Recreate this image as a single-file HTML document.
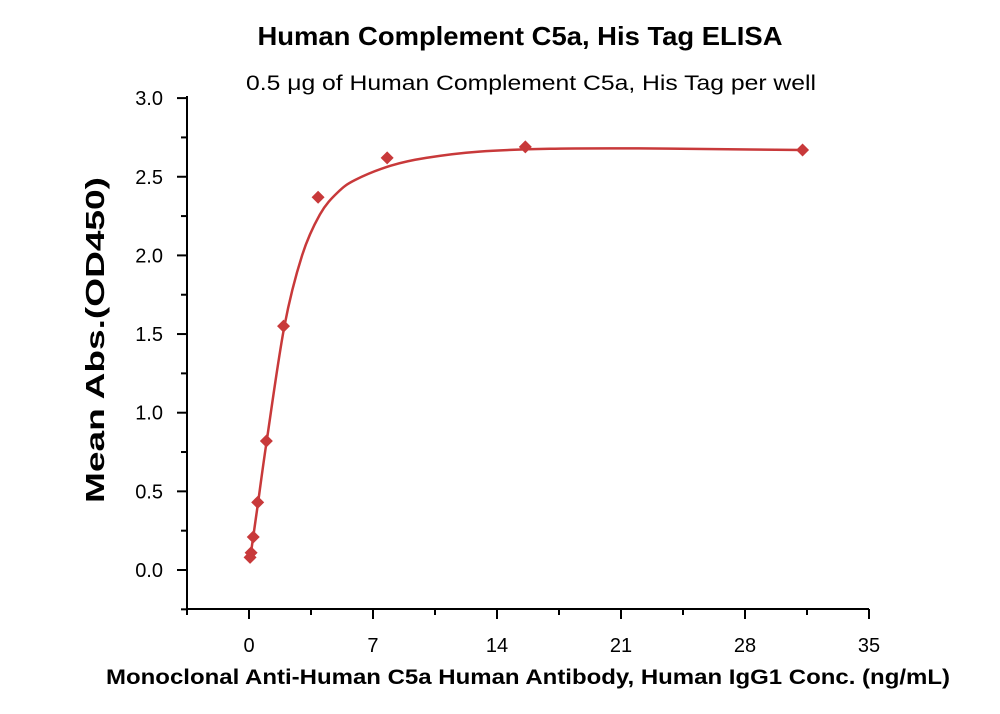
<!DOCTYPE html>
<html><head><meta charset="utf-8"><style>body{margin:0;background:#fff}svg{display:block}text{font-family:"Liberation Sans",sans-serif}</style></head>
<body>
<svg id="s" width="1000" height="714" xmlns="http://www.w3.org/2000/svg">
<text x="520" y="45" font-size="26" font-weight="bold" text-anchor="middle" textLength="525" lengthAdjust="spacingAndGlyphs">Human Complement C5a, His Tag ELISA</text>
<text x="531" y="90" font-size="21" text-anchor="middle" textLength="570" lengthAdjust="spacingAndGlyphs">0.5 μg of Human Complement C5a, His Tag per well</text>
<text x="528" y="684" font-size="21" font-weight="bold" text-anchor="middle" textLength="844" lengthAdjust="spacingAndGlyphs">Monoclonal Anti-Human C5a Human Antibody, Human IgG1 Conc. (ng/mL)</text>
<text transform="translate(104,340) rotate(-90)" font-size="26" font-weight="bold" text-anchor="middle" textLength="326" lengthAdjust="spacingAndGlyphs">Mean Abs.(OD450)</text>
<g id="ax" stroke="#000" stroke-width="2" fill="none"></g>
<g id="lbl" font-size="20"></g>
<path id="curve" fill="none" stroke="#c8393a" stroke-width="2.5"/>
<g id="pts" fill="#c8393a"></g>
</svg>
<script>
var X=function(v){return 249+v*17.714},Y=function(v){return 570-v*157.3};
var ax=document.getElementById('ax'),lb=document.getElementById('lbl'),ns='http://www.w3.org/2000/svg';
function L(x1,y1,x2,y2){var e=document.createElementNS(ns,'line');e.setAttribute('x1',x1);e.setAttribute('y1',y1);e.setAttribute('x2',x2);e.setAttribute('y2',y2);ax.appendChild(e);}
function T(x,y,t,a){var e=document.createElementNS(ns,'text');e.setAttribute('x',x);e.setAttribute('y',y);e.setAttribute('text-anchor',a);e.textContent=t;lb.appendChild(e);}
L(187,96,187,609);L(186,609,869,609);
for(var i=-1;i<=12;i++){var y=Y(i*0.25);if(y<96)continue;var maj=i%2==0&&i>=0;L(maj?177:181,y,187,y);if(maj)T(163,y+7,(i*0.25).toFixed(1),'end');}
for(var i=-1;i<=10;i++){var x=X(i*3.5);var maj=i%2==0;L(x,609,x,maj?619:615);if(maj)T(x,652,String(i*3.5),'middle');}
var cp=[[0.06,0.07],[0.5,0.42],[1,0.82],[2,1.55],[3,2.0],[4,2.26],[5,2.4],[6,2.48],[8,2.57],[10,2.62],[13,2.66],[17,2.678],[22,2.68],[27,2.675],[31.25,2.67]].map(function(q){return [X(q[0]),Y(q[1])];});
var d='M'+cp[0][0]+' '+cp[0][1];
for(var i=0;i<cp.length-1;i++){var p0=cp[Math.max(i-1,0)],p1=cp[i],p2=cp[i+1],p3=cp[Math.min(i+2,cp.length-1)];
d+='C'+(p1[0]+(p2[0]-p0[0])/6).toFixed(1)+' '+(p1[1]+(p2[1]-p0[1])/6).toFixed(1)+' '+(p2[0]-(p3[0]-p1[0])/6).toFixed(1)+' '+(p2[1]-(p3[1]-p1[1])/6).toFixed(1)+' '+p2[0].toFixed(1)+' '+p2[1].toFixed(1);}
document.getElementById('curve').setAttribute('d',d);
var data=[[0.06,0.08],[0.12,0.11],[0.24,0.21],[0.49,0.43],[0.98,0.82],[1.95,1.55],[3.9,2.37],[7.8,2.62],[15.6,2.69],[31.25,2.67]];
var p=document.getElementById('pts');data.forEach(function(q){var x=X(q[0]),y=Y(q[1]),r=6.5;var e=document.createElementNS(ns,'polygon');e.setAttribute('points',x+','+(y-r)+' '+(x+r)+','+y+' '+x+','+(y+r)+' '+(x-r)+','+y);p.appendChild(e);});
</script>
</body></html>
